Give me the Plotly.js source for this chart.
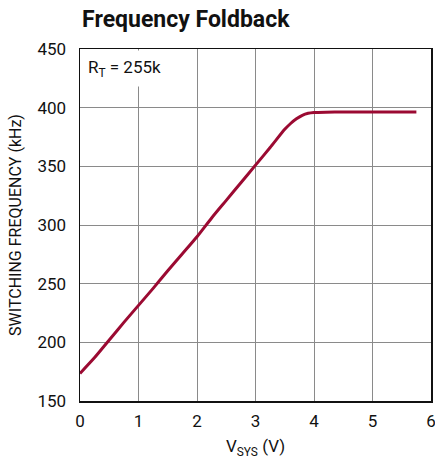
<!DOCTYPE html>
<html>
<head>
<meta charset="utf-8">
<script src="https://cdn.plot.ly/plotly-3.0.1.min.js"></script>
<style>html,body{margin:0;padding:0;background:#fff;}#chart{width:435px;height:462px;}</style>
</head>
<body>
<div id="chart"></div>
<script>
const vsys = [0, 0.25, 0.5, 0.75, 1.0, 1.25, 1.5, 1.75, 2.0, 2.25, 2.5, 2.75, 3.0, 3.25, 3.5, 3.6, 3.7, 3.8, 3.9, 4.0, 4.2, 4.5, 5.0, 5.5, 5.75];
const freq = [173.5, 187, 202, 217, 231.5, 246, 261, 275.5, 290, 306, 321, 336, 351, 366, 381.5, 386.5, 390.5, 393.5, 395.2, 395.9, 396.2, 396.3, 396.4, 396.4, 396.4];
const xTicks = [0, 1, 2, 3, 4, 5, 6];
const yTicks = [150, 200, 250, 300, 350, 400, 450];

const fontFam = 'Roboto, "Liberation Sans", Arial, sans-serif';

const trace = {
  x: vsys, y: freq, type: 'scatter', mode: 'lines',
  line: {color: 'rgb(155,10,50)', width: 3, shape: 'spline', smoothing: 0.6},
  hoverinfo: 'skip'
};

const layout = {
  width: 435, height: 462,
  margin: {l: 80, r: 4, t: 49, b: 61},
  paper_bgcolor: '#fff', plot_bgcolor: '#fff',
  showlegend: false,
  font: {family: fontFam, color: '#111', size: 16},
  title: {
    text: '<b>Frequency Foldback</b>',
    font: {family: fontFam, size: 23, color: '#111'},
    x: 0.006, xref: 'paper', xanchor: 'left',
    y: 1 - 19/462, yref: 'container', yanchor: 'middle'
  },
  xaxis: {
    range: [0, 6], tickvals: xTicks, ticktext: xTicks.map(String),
    showgrid: true, gridcolor: '#8a8a8a', gridwidth: 1,
    zeroline: false, showline: true, linecolor: '#111', linewidth: 1.5, mirror: true,
    ticks: 'outside', ticklen: 4, tickcolor: 'rgba(0,0,0,0)', ticklabeloverflow: 'allow',
    tickfont: {size: 17, family: fontFam, color: '#111'},
    title: {text: 'V<sub>SYS</sub> (V)', font: {size: 17, family: fontFam, color: '#111'}, standoff: 10}
  },
  yaxis: {
    range: [150, 450], tickvals: yTicks, ticktext: yTicks.map(String),
    showgrid: true, gridcolor: '#8a8a8a', gridwidth: 1,
    zeroline: false, showline: true, linecolor: '#111', linewidth: 1.5, mirror: true,
    ticks: 'outside', ticklen: 9, tickcolor: 'rgba(0,0,0,0)',
    tickfont: {size: 17, family: fontFam, color: '#111'},
    title: {text: 'SWITCHING FREQUENCY (kHz)', font: {size: 16, family: fontFam, color: '#111'}, standoff: 12}
  },
  annotations: [{
    text: 'R<sub>T</sub> = 255k', xref: 'paper', yref: 'paper',
    x: 0.003, y: 0.997, xanchor: 'left', yanchor: 'top', showarrow: false,
    bgcolor: '#fff', borderpad: 6,
    font: {size: 17, family: fontFam, color: '#111'}
  }]
};

Plotly.newPlot('chart', [trace], layout, {displayModeBar: false, staticPlot: true});
</script>
</body>
</html>
